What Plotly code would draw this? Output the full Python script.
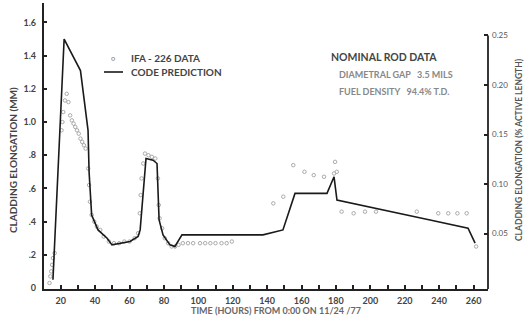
import plotly.graph_objects as go

# ---- data ----
pred_hours = [15.5, 22.0, 31.5, 35.9, 36.5, 38.0, 41.7, 47.0, 49.8, 54.5, 60.3, 65.0, 66.2,
              69.6, 73.7, 76.0, 77.2, 79.5, 83.5, 86.4, 88.2, 90.5, 137.6, 149.2, 156.2,
              174.8, 178.9, 180.6, 234.7, 256.8, 260.9]
pred_mm = [0.05, 1.50, 1.31, 0.95, 0.70, 0.44, 0.35, 0.30, 0.26, 0.27, 0.28, 0.31, 0.35,
           0.78, 0.77, 0.75, 0.41, 0.32, 0.26, 0.25, 0.28, 0.32, 0.32, 0.35, 0.57,
           0.57, 0.67, 0.53, 0.41, 0.36, 0.27]

data_hours = [13.5, 14.0, 14.5, 15.0, 15.5, 16.5,
              20.5, 21.0, 21.5, 22.5, 23.5, 24.5, 25.5, 26.5, 27.5, 28.5, 29.5, 30.5, 31.5, 32.5, 33.5, 34.5,
              36.0, 36.5, 37.0, 38.0, 39.5, 41.0, 43.0, 45.0, 48.0, 51.0, 54.0, 57.0, 60.0, 63.0, 65.0,
              66.0, 66.5, 67.0, 68.0, 69.0, 71.0, 73.0, 75.0, 76.5, 77.0, 77.5, 79.0, 80.5, 82.5, 84.5, 86.5, 88.5,
              91.0, 94.0, 97.0, 101.0, 104.0, 107.0, 110.0, 113.5, 116.5, 119.5,
              143.6, 149.4, 155.2, 161.7, 167.1, 173.1, 178.9, 179.5, 180.5,
              183.3, 190.3, 196.9, 203.3, 227.0, 239.5, 245.3, 250.6, 256.0, 261.5]
data_mm = [0.03, 0.07, 0.10, 0.14, 0.18, 0.21,
           0.95, 1.00, 1.06, 1.13, 1.17, 1.12, 1.04, 1.01, 0.99, 0.97, 0.95, 0.93, 0.90, 0.88, 0.86, 0.84,
           0.72, 0.62, 0.52, 0.44, 0.40, 0.37, 0.35, 0.31, 0.28, 0.27, 0.27, 0.28, 0.28, 0.30, 0.33,
           0.45, 0.56, 0.66, 0.75, 0.81, 0.80, 0.79, 0.78, 0.66, 0.50, 0.42, 0.36, 0.30, 0.27, 0.25, 0.25, 0.26,
           0.27, 0.27, 0.27, 0.27, 0.27, 0.27, 0.27, 0.27, 0.27, 0.28,
           0.51, 0.55, 0.74, 0.70, 0.68, 0.67, 0.69, 0.76, 0.70,
           0.46, 0.45, 0.46, 0.46, 0.46, 0.45, 0.45, 0.45, 0.45, 0.25]

x_ticks = [20, 40, 60, 80, 100, 120, 140, 160, 180, 200, 220, 240, 260]
y_ticks = [0, 0.2, 0.4, 0.6, 0.8, 1.0, 1.2, 1.4, 1.6]
y_ticktext = ["0", ".2", ".4", ".6", ".8", "1.0", "1.2", "1.4", "1.6"]
y2_ticks = [0.05, 0.10, 0.15, 0.20, 0.25]
y2_ticktext = ["0.05", "0.10", "0.15", "0.20", "0.25"]

# ---- layout helpers (pixel -> paper) ----
W, H = 527, 325
L, R, T, B = 44, 488, 3, 289
def px(x):
    return (x - L) / (R - L)
def py(y):
    return (B - y) / (B - T)

FONT = "Lato"
fig = go.Figure()
fig.add_trace(go.Scatter(x=data_hours, y=data_mm, mode="markers",
                         marker=dict(symbol="circle-open", size=3.5, color="#aaaaaa",
                                     line=dict(width=1, color="#aaaaaa")),
                         showlegend=False, hoverinfo="skip"))
fig.add_trace(go.Scatter(x=pred_hours, y=pred_mm, mode="lines",
                         line=dict(color="#1a1a1a", width=1.6),
                         showlegend=False, hoverinfo="skip"))
fig.add_trace(go.Scatter(x=[None], y=[None], yaxis="y2", showlegend=False, hoverinfo="skip"))

tickfont = dict(family=FONT, size=9, color="#444", weight="bold")
fig.update_layout(
    width=W, height=H,
    margin=dict(l=L, r=W - R, t=T, b=H - B, pad=0),
    paper_bgcolor="white", plot_bgcolor="white",
    xaxis=dict(range=[10.3, 268.4], tickmode="array", tickvals=x_ticks,
               ticks="inside", ticklen=4, tickwidth=1.5, tickcolor="#222",
               minor=dict(tickmode="linear", tick0=0, dtick=10, ticks="inside", ticklen=4,
                          tickwidth=1.5, tickcolor="#222"),
               showline=True, linecolor="#222", linewidth=1.8, showgrid=False, zeroline=False,
               tickfont=tickfont, ticklabelstandoff=2),
    yaxis=dict(range=[-0.006, 1.717], tickmode="array", tickvals=y_ticks, ticktext=y_ticktext,
               ticks="inside", ticklen=3, tickwidth=1.5, tickcolor="#222",
               showline=True, linecolor="#222", linewidth=2.2, showgrid=False, zeroline=False,
               tickfont=tickfont, ticklabelstandoff=4),
    yaxis2=dict(overlaying="y", side="right", range=[-0.006, 0.2828], tickmode="array",
                tickvals=y2_ticks, ticktext=y2_ticktext, ticks="inside", ticklen=4,
                tickwidth=1.5, tickcolor="#222", showline=False, showgrid=False, zeroline=False,
                tickfont=dict(family=FONT, size=8, color="#555"), ticklabelstandoff=3),
    showlegend=False,
)

# right axis line, ending at 0.25
fig.add_shape(type="line", xref="paper", yref="y2", x0=1, x1=1, y0=-0.006, y1=0.25,
              line=dict(color="#222", width=1.8))
# legend line sample
fig.add_shape(type="line", xref="paper", yref="paper", x0=px(104), x1=px(123),
              y0=py(72), y1=py(72), line=dict(color="#1a1a1a", width=1.6))

def ann(text, x, y, size, color, xanchor="left", angle=0, bold=True):
    fig.add_annotation(text=text, xref="paper", yref="paper", x=px(x), y=py(y),
                       xanchor=xanchor, yanchor="middle", showarrow=False, textangle=angle,
                       font=dict(family=FONT, size=size, color=color,
                                 weight="bold" if bold else "normal"))

ann("○", 113, 58, 7, "#888", xanchor="center")
ann("IFA - 226 DATA", 129, 58, 10, "#444")
ann("CODE PREDICTION", 129, 72, 10, "#444")
ann("NOMINAL ROD DATA", 329, 57, 10.5, "#444")
ann("DIAMETRAL GAP   3.5 MILS", 337, 74, 9, "#888")
ann("FUEL DENSITY   94.4% T.D.", 337, 92, 9, "#888")
ann("CLADDING ELONGATION (MM)", 13, 160, 10, "#444", xanchor="center", angle=-90)
ann("CLADDING ELONGATION (% ACTIVE LENGTH)", 519, 150, 8.5, "#555", xanchor="center", angle=-90)
ann("TIME (HOURS) FROM 0:00 ON 11/24 /77", 276, 310, 9, "#666", xanchor="center")

fig.write_html("out.html", config={"displayModeBar": False},
               post_script="document.body.style.margin='0';")
